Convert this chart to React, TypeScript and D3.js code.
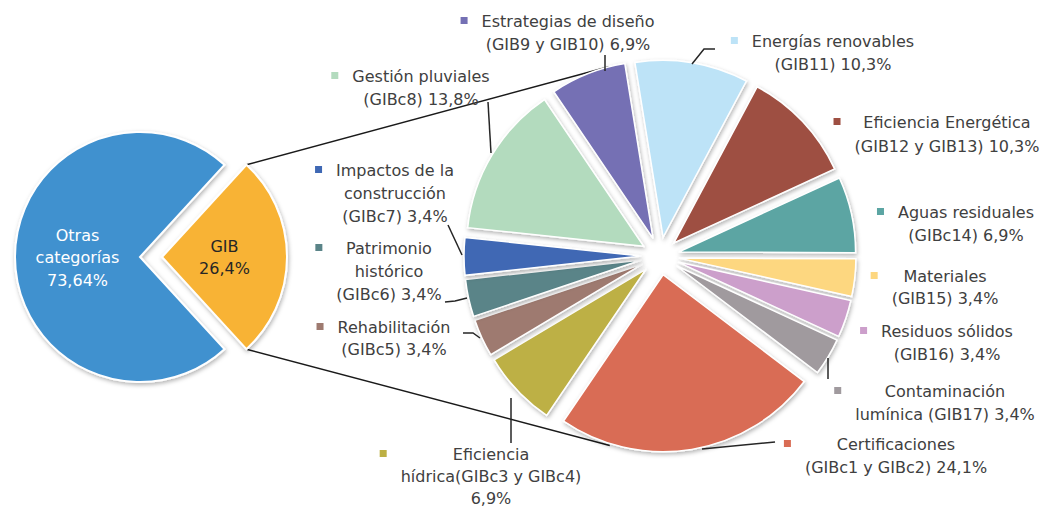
import React, { useEffect, useRef } from 'react';
import * as d3 from 'd3';

const W = 1043;
const H = 508;

// ---- Data: main pie ----
const mainCategories = ['Otras categorías', 'GIB'];
const mainValues = [73.64, 26.4];
const mainLabels = [['Otras', 'categorías', '73,64%'], ['GIB', '26,4%']];
const mainColors = ['#4191CF', '#F8B334'];
const mainTextColors = ['#ffffff', '#262626'];

// ---- Data: GIB breakdown pie (clockwise order) ----
const gibCategories = [
  'Estrategias de diseño',
  'Energías renovables',
  'Eficiencia Energética',
  'Aguas residuales',
  'Materiales',
  'Residuos sólidos',
  'Contaminación lumínica',
  'Certificaciones',
  'Eficiencia hídrica',
  'Rehabilitación',
  'Patrimonio histórico',
  'Impactos de la construcción',
  'Gestión pluviales',
];
const gibValues = [6.9, 10.3, 10.3, 6.9, 3.4, 3.4, 3.4, 24.1, 6.9, 3.4, 3.4, 3.4, 13.8];
const gibColors = [
  '#7470B4', '#BDE3F7', '#9E4F42', '#5BA5A3', '#FDD780', '#CC9FCB', '#A09A9E',
  '#D96C54', '#BDB044', '#9E7A70', '#5A8488', '#3F68B4', '#B3DBBE',
];
const gibLabels = [
  ['Estrategias de diseño', '(GIB9 y GIB10) 6,9%'],
  ['Energías renovables', '(GIB11) 10,3%'],
  ['Eficiencia Energética', '(GIB12 y GIB13) 10,3%'],
  ['Aguas residuales', '(GIBc14) 6,9%'],
  ['Materiales', '(GIB15) 3,4%'],
  ['Residuos sólidos', '(GIB16) 3,4%'],
  ['Contaminación', 'lumínica (GIB17) 3,4%'],
  ['Certificaciones', '(GIBc1 y GIBc2) 24,1%'],
  ['Eficiencia', 'hídrica(GIBc3 y GIBc4)', '6,9%'],
  ['Rehabilitación', '(GIBc5) 3,4%'],
  ['Patrimonio', 'histórico', '(GIBc6) 3,4%'],
  ['Impactos de la', 'construcción', '(GIBc7) 3,4%'],
  ['Gestión pluviales', '(GIBc8) 13,8%'],
];

// ---- Layout (annotation placement) ----
const labelLayout = [
  { cx: 568, y: 27, lh: 23 },
  { cx: 833, y: 47, lh: 23 },
  { cx: 947, y: 128, lh: 24 },
  { cx: 966, y: 218, lh: 23 },
  { cx: 945, y: 282, lh: 22 },
  { cx: 947, y: 337, lh: 23 },
  { cx: 945, y: 397, lh: 23 },
  { cx: 896, y: 450, lh: 23 },
  { cx: 491, y: 460, lh: 22 },
  { cx: 394, y: 333, lh: 22 },
  { cx: 389, y: 254, lh: 23 },
  { cx: 395, y: 176, lh: 23 },
  { cx: 421, y: 82, lh: 23 },
];
const leaderLayout: [number, number][][] = [
  [[605, 55], [605, 71]],
  [[715, 49], [704, 49], [692, 64]],
  [],
  [],
  [],
  [],
  [[828, 358], [828, 379]],
  [[775, 442], [702, 449]],
  [[511, 398], [511, 443]],
  [[463, 333], [473, 333], [480, 338]],
  [[445, 302], [455, 301], [467, 298]],
  [[448, 225], [462, 255]],
  [[488, 102], [491, 153]],
];

const LEFT = { cx: 140, cy: 257, r: 125, explode: 22 };
const RIGHT = { cx: 660, cy: 256, r: 177, explode: 19, start: -34.1 };
const FONT = '"DejaVu Sans", sans-serif';
const TEXT = '#404040';

export default function App() {
  const ref = useRef<SVGSVGElement | null>(null);

  useEffect(() => {
    const svg = d3.select(ref.current);
    svg.selectAll('*').remove();

    const defs = svg.append('defs');
    const f = defs.append('filter').attr('id', 'sh')
      .attr('x', '-30%').attr('y', '-30%').attr('width', '160%').attr('height', '160%');
    f.append('feDropShadow').attr('dx', 1).attr('dy', 2).attr('stdDeviation', 2)
      .attr('flood-color', '#000').attr('flood-opacity', 0.3);

    // ---- left pie ----
    const total = d3.sum(mainValues);
    const gibAngle = (2 * Math.PI * mainValues[1]) / total;
    const s0 = Math.PI / 2 + gibAngle / 2;
    const pieL = d3.pie<number>().sort(null).startAngle(s0).endAngle(s0 + 2 * Math.PI);
    const arcsL = pieL(mainValues);
    const arcL = d3.arc<d3.PieArcDatum<number>>().innerRadius(0).outerRadius(LEFT.r);
    const offL = (d: d3.PieArcDatum<number>, i: number) => {
      const e = i === 1 ? LEFT.explode : 0;
      const m = (d.startAngle + d.endAngle) / 2;
      return [Math.sin(m) * e, -Math.cos(m) * e];
    };

    // ---- right pie ----
    const st = (RIGHT.start * Math.PI) / 180;
    const pieR = d3.pie<number>().sort(null).startAngle(st).endAngle(st + 2 * Math.PI);
    const arcsR = pieR(gibValues);
    const arcR = d3.arc<d3.PieArcDatum<number>>().innerRadius(0).outerRadius(RIGHT.r);
    const offR = (d: d3.PieArcDatum<number>) => {
      const m = (d.startAngle + d.endAngle) / 2;
      return [Math.sin(m) * RIGHT.explode, -Math.cos(m) * RIGHT.explode];
    };

    // ---- connector lines (tangents from GIB corners to right pie) ----
    const g = arcsL[1];
    const [gx, gy] = offL(g, 1);
    const corner = (a: number) => [
      LEFT.cx + gx + Math.sin(a) * LEFT.r,
      LEFT.cy + gy - Math.cos(a) * LEFT.r,
    ];
    const Rad = RIGHT.r + RIGHT.explode;
    const tangent = (P: number[], upper: boolean) => {
      const vx = P[0] - RIGHT.cx, vy = P[1] - RIGHT.cy;
      const d = Math.hypot(vx, vy);
      const th = Math.atan2(vy, vx);
      const al = Math.acos(Rad / d);
      const t1 = [RIGHT.cx + Rad * Math.cos(th + al), RIGHT.cy + Rad * Math.sin(th + al)];
      const t2 = [RIGHT.cx + Rad * Math.cos(th - al), RIGHT.cy + Rad * Math.sin(th - al)];
      return upper ? (t1[1] < t2[1] ? t1 : t2) : (t1[1] > t2[1] ? t1 : t2);
    };
    const cTop = corner(g.startAngle);
    const cBot = corner(g.endAngle);
    const topC = cTop[1] < cBot[1] ? cTop : cBot;
    const botC = cTop[1] < cBot[1] ? cBot : cTop;
    const conn = svg.append('g');
    [[topC, tangent(topC, true)], [botC, tangent(botC, false)]].forEach(([a, b]) => {
      conn.append('line').attr('x1', a[0]).attr('y1', a[1]).attr('x2', b[0]).attr('y2', b[1])
        .attr('stroke', '#1a1a1a').attr('stroke-width', 1.5);
    });

    // draw left pie
    const gl = svg.append('g').attr('transform', `translate(${LEFT.cx},${LEFT.cy})`);
    gl.selectAll('path').data(arcsL).enter().append('path')
      .attr('d', (d) => arcL(d) as string)
      .attr('transform', (d, i) => { const [x, y] = offL(d, i); return `translate(${x},${y})`; })
      .attr('fill', (d, i) => mainColors[i])
      .attr('stroke', '#fff').attr('stroke-width', 2)
      .attr('filter', 'url(#sh)');
    arcsL.forEach((d, i) => {
      const [ox, oy] = offL(d, i);
      const [cx, cy] = arcL.centroid(d);
      const lines = mainLabels[i];
      const lh = 22.5;
      const y0 = cy + oy - ((lines.length - 1) / 2) * lh + 6;
      lines.forEach((t, k) => {
        gl.append('text').attr('x', cx + ox).attr('y', y0 + k * lh)
          .attr('text-anchor', 'middle').attr('font-family', FONT).attr('font-size', 16)
          .attr('fill', mainTextColors[i]).text(t);
      });
    });

    // draw right pie
    const gr = svg.append('g').attr('transform', `translate(${RIGHT.cx},${RIGHT.cy})`);
    gr.selectAll('path').data(arcsR).enter().append('path')
      .attr('d', (d) => arcR(d) as string)
      .attr('transform', (d) => { const [x, y] = offR(d); return `translate(${x},${y})`; })
      .attr('fill', (d, i) => gibColors[i])
      .attr('stroke', '#fff').attr('stroke-width', 1.5)
      .attr('filter', 'url(#sh)');

    // leaders
    const lineGen = d3.line();
    leaderLayout.forEach((pts) => {
      if (pts.length < 2) return;
      svg.append('path').attr('d', lineGen(pts) as string)
        .attr('fill', 'none').attr('stroke', '#262626').attr('stroke-width', 1.5);
    });

    // labels
    gibLabels.forEach((lines, i) => {
      const { cx, y, lh } = labelLayout[i];
      const lg = svg.append('g');
      let maxW = 0;
      lines.forEach((t, k) => {
        const node = lg.append('text').attr('x', cx).attr('y', y + k * lh)
          .attr('text-anchor', 'middle').attr('font-family', FONT).attr('font-size', 16)
          .attr('fill', TEXT).text(t).node() as SVGTextElement;
        maxW = Math.max(maxW, node.getComputedTextLength());
      });
      lg.append('rect').attr('x', cx - maxW / 2 - 14 - 7).attr('y', y - 10)
        .attr('width', 7).attr('height', 7).attr('fill', gibColors[i]);
    });
  }, []);

  return (
    <svg
      ref={ref}
      width={W}
      height={H}
      style={{ position: 'absolute', left: 0, top: 0, background: '#fff' }}
      aria-label={`${mainCategories.join(', ')}; ${gibCategories.join(', ')}`}
    />
  );
}
